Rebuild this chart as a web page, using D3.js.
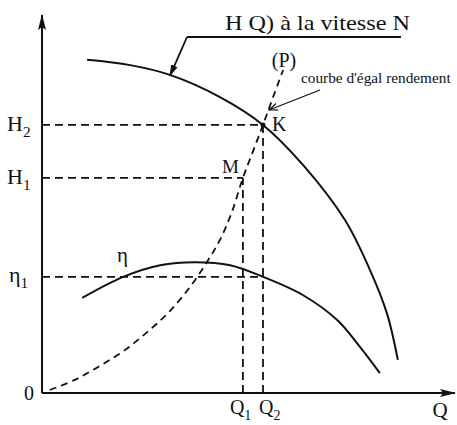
<!DOCTYPE html>
<html>
<head>
<meta charset="utf-8">
<script src="https://cdn.jsdelivr.net/npm/d3@7"></script>
<style>
  html, body { margin: 0; padding: 0; background: #fff; }
  svg { display: block; }
  text { font-family: "Liberation Serif", "Times New Roman", serif; fill: #111; }
</style>
</head>
<body>
<div id="chart"></div>
<script>
// Pump characteristic at speed N: head curve H(Q), efficiency curve η(Q)
// and the equal-efficiency parabola (P) through the origin.
const headCurve = [
  [11.0, 88.6], [21.5, 87.2], [31.2, 84.6], [43.4, 78.7], [53.9, 71.3],
  [63.7, 60.6], [73.9, 46.0], [80.0, 32.7], [84.1, 21.3], [86.8, 8.8]
];
const efficiencyCurve = [
  [9.8, 25.3], [19.8, 30.9], [28.8, 34.0], [37.3, 34.8], [45.9, 34.0],
  [53.9, 30.9], [63.7, 26.0], [72.0, 19.4], [77.6, 12.2], [82.4, 5.3]
];
const parabolaP = [
  [1.9, 0.8], [8.0, 3.5], [14.1, 7.2], [20.2, 11.4], [26.3, 16.8],
  [31.2, 21.8], [36.1, 28.2], [40.2, 34.8], [43.4, 40.7], [46.3, 48.1],
  [49.0, 57.2], [51.5, 64.4], [53.9, 71.3], [56.3, 78.5], [58.8, 85.9]
];
// Operating points
const flowTicks = [ { name: "Q", sub: "1", value: 49.0 }, { name: "Q", sub: "2", value: 53.9 } ];
const headTicks = [ { name: "H", sub: "1", value: 57.2 }, { name: "H", sub: "2", value: 71.3 } ];
const effTicks  = [ { name: "η", sub: "1", value: 30.9 } ];
const pointM = { q: 49.0, h: 57.2 };
const pointK = { q: 53.9, h: 71.3 };

const W = 457, H = 425;
const svg = d3.select("#chart").append("svg").attr("width", W).attr("height", H);

const x = d3.scaleLinear().domain([0, 100]).range([42, 452]);
const y = d3.scaleLinear().domain([0, 100]).range([393, 17]);

const defs = svg.append("defs");
defs.append("marker").attr("id", "axisArrow")
  .attr("viewBox", "0 0 16 10").attr("refX", 15).attr("refY", 5)
  .attr("markerWidth", 16).attr("markerHeight", 10).attr("markerUnits", "userSpaceOnUse")
  .attr("orient", "auto")
  .append("path").attr("d", "M0,1 L16,5 L0,9 L3,5 Z").attr("fill", "#111");
defs.append("marker").attr("id", "leaderArrow")
  .attr("viewBox", "0 0 12 8").attr("refX", 11).attr("refY", 4)
  .attr("markerWidth", 12).attr("markerHeight", 8).attr("markerUnits", "userSpaceOnUse")
  .attr("orient", "auto")
  .append("path").attr("d", "M0,0.5 L12,4 L0,7.5 Z").attr("fill", "#111");
defs.append("marker").attr("id", "thinArrow")
  .attr("viewBox", "0 0 10 8").attr("refX", 9).attr("refY", 4)
  .attr("markerWidth", 10).attr("markerHeight", 8).attr("markerUnits", "userSpaceOnUse")
  .attr("orient", "auto")
  .append("path").attr("d", "M0,0.5 L9,4 L0,7.5").attr("fill", "none")
  .attr("stroke", "#111").attr("stroke-width", 1.2);

// Axes
svg.append("line")
  .attr("x1", x(0)).attr("y1", y(0)).attr("x2", x(0)).attr("y2", 15)
  .attr("stroke", "#111").attr("stroke-width", 2).attr("marker-end", "url(#axisArrow)");
svg.append("line")
  .attr("x1", x(0)).attr("y1", y(0)).attr("x2", 455).attr("y2", y(0))
  .attr("stroke", "#111").attr("stroke-width", 2).attr("marker-end", "url(#axisArrow)");

const dash = "8,5";
const refG = svg.append("g").attr("stroke", "#111").attr("stroke-width", 1.8)
  .attr("stroke-dasharray", dash).attr("fill", "none");
// Horizontal dashed guides from the axis to M and K, and to η at Q2
refG.append("line").attr("x1", x(0)).attr("x2", x(pointK.q)).attr("y1", y(pointK.h)).attr("y2", y(pointK.h));
refG.append("line").attr("x1", x(0)).attr("x2", x(pointM.q)).attr("y1", y(pointM.h)).attr("y2", y(pointM.h));
refG.append("line").attr("x1", x(0)).attr("x2", x(pointK.q)).attr("y1", y(effTicks[0].value)).attr("y2", y(effTicks[0].value));
// Vertical dashed guides
refG.append("line").attr("x1", x(pointM.q)).attr("x2", x(pointM.q)).attr("y1", y(0)).attr("y2", y(pointM.h));
refG.append("line").attr("x1", x(pointK.q)).attr("x2", x(pointK.q)).attr("y1", y(0)).attr("y2", y(pointK.h));

const line = d3.line().x(d => x(d[0])).y(d => y(d[1])).curve(d3.curveCatmullRom.alpha(0.5));

svg.append("path").datum(headCurve).attr("d", line)
  .attr("fill", "none").attr("stroke", "#111").attr("stroke-width", 2);
svg.append("path").datum(efficiencyCurve).attr("d", line)
  .attr("fill", "none").attr("stroke", "#111").attr("stroke-width", 2);
svg.append("path").datum(parabolaP).attr("d", line)
  .attr("fill", "none").attr("stroke", "#111").attr("stroke-width", 1.8)
  .attr("stroke-dasharray", "7,5");

// Point K
svg.append("circle").attr("cx", x(pointK.q)).attr("cy", y(pointK.h)).attr("r", 2.5).attr("fill", "#111");

// Labels with subscripts
function subLabel(g, px, py, t, size, anchor) {
  const tx = g.append("text").attr("x", px).attr("y", py).attr("font-size", size)
    .attr("text-anchor", anchor || "start");
  tx.append("tspan").text(t.name);
  tx.append("tspan").attr("dy", size * 0.28).attr("font-size", size * 0.7).text(t.sub);
  return tx;
}
const lab = svg.append("g");
headTicks.forEach(t => subLabel(lab, 7, y(t.value) + 6, t, 22));
effTicks.forEach(t => subLabel(lab, 9, y(t.value) + 5, t, 22));
subLabel(lab, x(flowTicks[0].value) - 13, 414, flowTicks[0], 20);
subLabel(lab, x(flowTicks[1].value) - 4, 414, flowTicks[1], 20);

lab.append("text").attr("x", 29).attr("y", 400).attr("font-size", 20).attr("text-anchor", "middle").text("0");
lab.append("text").attr("x", 440).attr("y", 417).attr("font-size", 21).attr("text-anchor", "middle").text("Q");
lab.append("text").attr("x", 117).attr("y", 262).attr("font-size", 21).text("η");
lab.append("text").attr("x", 284).attr("y", 67).attr("font-size", 20).attr("text-anchor", "middle").text("(P)");
lab.append("text").attr("x", 272).attr("y", 131).attr("font-size", 20).text("K");
lab.append("text").attr("x", 222).attr("y", 173).attr("font-size", 19).text("M");

// Title with underline and leader pointing to the head curve
lab.append("text").attr("x", 225).attr("y", 30).attr("font-size", 22)
  .attr("textLength", 185).attr("lengthAdjust", "spacingAndGlyphs")
  .text("H Q) à la vitesse N");
svg.append("line").attr("x1", 187).attr("y1", 37).attr("x2", 401).attr("y2", 37)
  .attr("stroke", "#111").attr("stroke-width", 2);
svg.append("line").attr("x1", 187).attr("y1", 37).attr("x2", x(31.2)).attr("y2", y(84.6) + 1)
  .attr("stroke", "#111").attr("stroke-width", 1.8).attr("marker-end", "url(#leaderArrow)");

// Equal-efficiency note
lab.append("text").attr("x", 301).attr("y", 83).attr("font-size", 15.3)
  .text("courbe d'égal rendement");
svg.append("line").attr("x1", 320).attr("y1", 90).attr("x2", 269).attr("y2", 110)
  .attr("stroke", "#111").attr("stroke-width", 1.2).attr("marker-end", "url(#thinArrow)");
</script>
</body>
</html>
